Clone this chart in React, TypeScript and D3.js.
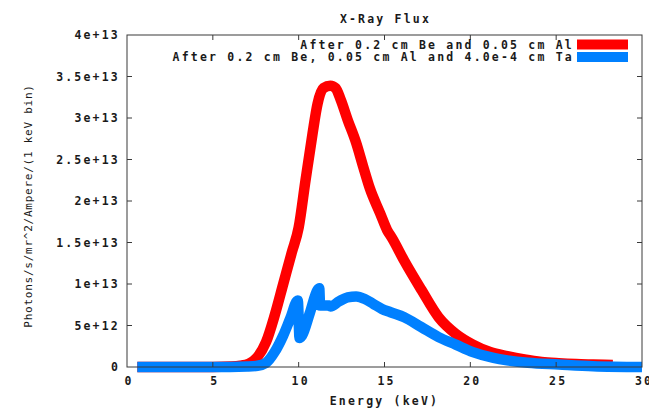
import React from "react";
import * as d3 from "d3";

const title = "X-Ray Flux";
const xLabel = "Energy (keV)";
const yLabel = "Photons/s/mr^2/Ampere/(1 keV bin)";
const seriesNames = [
  "After 0.2 cm Be and 0.05 cm Al",
  "After 0.2 cm Be, 0.05 cm Al and 4.0e-4 cm Ta",
];
const seriesColors = ["#ff0000", "#0080ff"];

const xTicks = [0, 5, 10, 15, 20, 25, 30];
const yTicks = [0, 5e12, 1e13, 1.5e13, 2e13, 2.5e13, 3e13, 3.5e13, 4e13];
const yTickLabels = ["0", "5e+12", "1e+13", "1.5e+13", "2e+13", "2.5e+13", "3e+13", "3.5e+13", "4e+13"];

// Series 1: after Be + Al (units of 1e13)
const alEnergy = [0.6, 1, 2, 3, 4, 5, 6, 6.6, 7.1, 7.6, 8.1, 8.6, 9.1, 9.6, 10.0, 10.4, 10.8, 11.1, 11.45, 11.85, 12.15, 12.45, 12.85, 13.35, 13.75, 14.15, 14.75, 15.15, 15.45, 16.15, 17.15, 18.15, 19.15, 20.15, 21.15, 22.15, 23.15, 24.15, 25.15, 26.15, 27.15, 28.3];
const alFlux = [0, 0, 0, 0, 0, 0, 0.005, 0.015, 0.04, 0.12, 0.3, 0.62, 1.0, 1.38, 1.68, 2.25, 2.8, 3.17, 3.36, 3.39, 3.36, 3.22, 2.98, 2.7, 2.42, 2.15, 1.85, 1.65, 1.55, 1.28, 0.93, 0.6, 0.4, 0.27, 0.18, 0.13, 0.09, 0.06, 0.045, 0.035, 0.03, 0.025];

// Series 2: after Be + Al + Ta (units of 1e13)
const taEnergy = [0.6, 1, 2, 3, 4, 5, 6, 7, 7.6, 8.1, 8.6, 9.1, 9.5, 9.95, 10.05, 10.2, 10.65, 11.1, 11.2, 11.25, 11.8, 11.85, 12.35, 12.85, 13.35, 13.85, 14.35, 14.85, 15.35, 16.15, 17.15, 18.15, 19.15, 20.15, 21.35, 22.15, 23.35, 25.15, 27.15, 30];
const taFlux = [0, 0, 0, 0, 0, 0, 0, 0.005, 0.015, 0.05, 0.18, 0.38, 0.58, 0.8, 0.35, 0.38, 0.65, 0.93, 0.95, 0.74, 0.74, 0.73, 0.79, 0.84, 0.85, 0.82, 0.76, 0.7, 0.66, 0.6, 0.48, 0.36, 0.27, 0.18, 0.11, 0.08, 0.05, 0.03, 0.01, 0];

const W = 649;
const H = 408;
const M = { left: 127, right: 642, top: 35, bottom: 367 };
const FONT = "'DejaVu Sans Mono', 'Liberation Mono', monospace";

export default function App() {
  const x = d3.scaleLinear().domain([0, 30]).range([M.left, M.right]);
  const y = d3.scaleLinear().domain([0, 4e13]).range([M.bottom, M.top]);

  const line = d3
    .line<[number, number]>()
    .x((d) => x(d[0]))
    .y((d) => y(d[1] * 1e13))
    .curve(d3.curveMonotoneX);

  const alPts = alEnergy.map((e, i) => [e, alFlux[i]] as [number, number]);
  const taPts = taEnergy.map((e, i) => [e, taFlux[i]] as [number, number]);

  const textStyle = {
    fontFamily: FONT,
    fontSize: 11.5,
    fontWeight: "bold",
    letterSpacing: 2.2,
    fill: "#1a1a1a",
  } as const;
  const tickLen = 5;
  const axisColor = "#3a3a3a";

  return (
    <svg
      width={W}
      height={H}
      style={{ position: "absolute", left: 0, top: 0, background: "#fff" }}
    >
      <rect x={0} y={0} width={W} height={H} fill="#fff" />
      {/* title */}
      <text x={(M.left + M.right) / 2 + 1} y={19} textAnchor="middle" dominantBaseline="central" style={textStyle}>
        {title}
      </text>

      {/* series */}
      <path d={line(alPts) || ""} fill="none" stroke={seriesColors[0]} strokeWidth={10.5} strokeLinejoin="round" strokeLinecap="butt" />
      <path d={line(taPts) || ""} fill="none" stroke={seriesColors[1]} strokeWidth={10.5} strokeLinejoin="round" strokeLinecap="butt" />

      {/* frame */}
      <rect x={M.left} y={M.top} width={M.right - M.left} height={M.bottom - M.top} fill="none" stroke={axisColor} strokeWidth={1} />

      {/* y ticks */}
      {yTicks.map((t, i) => (
        <g key={"y" + i}>
          {i > 0 && i < yTicks.length - 1 && (
            <>
              <line x1={M.left} x2={M.left + tickLen} y1={y(t)} y2={y(t)} stroke={axisColor} />
              <line x1={M.right} x2={M.right - tickLen} y1={y(t)} y2={y(t)} stroke={axisColor} />
            </>
          )}
          <text x={120} y={y(t)} textAnchor="end" dominantBaseline="central" style={textStyle}>
            {yTickLabels[i]}
          </text>
        </g>
      ))}

      {/* x ticks */}
      {xTicks.map((t, i) => (
        <g key={"x" + i}>
          {i > 0 && i < xTicks.length - 1 && (
            <>
              <line x1={x(t)} x2={x(t)} y1={M.bottom} y2={M.bottom - tickLen} stroke={axisColor} />
              <line x1={x(t)} x2={x(t)} y1={M.top} y2={M.top + tickLen} stroke={axisColor} />
            </>
          )}
          <text x={x(t) + 2} y={381} textAnchor="middle" dominantBaseline="central" style={textStyle}>
            {String(t)}
          </text>
        </g>
      ))}

      {/* axis labels */}
      <text x={(M.left + M.right) / 2} y={401} textAnchor="middle" dominantBaseline="central" style={textStyle}>
        {xLabel}
      </text>
      <text
        transform={`translate(28, 206) rotate(-90)`}
        textAnchor="middle"
        dominantBaseline="central"
        style={{ ...textStyle, fontWeight: "normal", fontSize: 11, letterSpacing: 0.75 }}
      >
        {yLabel}
      </text>

      {/* legend */}
      {seriesNames.map((name, i) => {
        const cy = 44.5 + i * 12.5;
        return (
          <g key={"l" + i}>
            <text x={574} y={cy} textAnchor="end" dominantBaseline="central" style={textStyle}>
              {name}
            </text>
            <rect x={577} y={cy - 5} width={51} height={10} fill={seriesColors[i]} />
          </g>
        );
      })}
    </svg>
  );
}
